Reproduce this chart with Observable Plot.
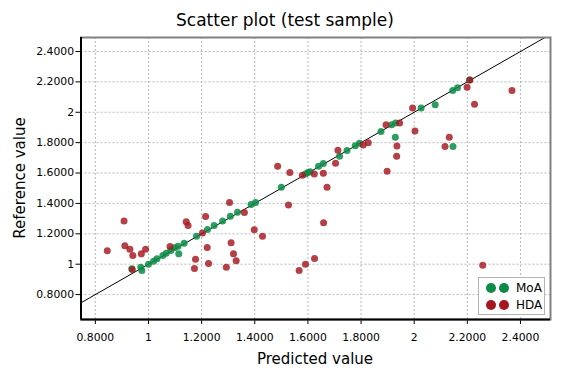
<!DOCTYPE html>
<html><head><meta charset="utf-8">
<script src="https://cdn.jsdelivr.net/npm/d3@7"></script>
<script src="https://cdn.jsdelivr.net/npm/@observablehq/plot@0.6"></script>
<style>
body{margin:0;background:#fff;font-family:"DejaVu Sans",sans-serif;}
#wrap{position:relative;width:570px;height:375px;overflow:hidden;}
#title{height:36px;text-align:center;font-size:17px;line-height:40px;color:#000;}
#legend{position:absolute;left:478px;top:277px;width:65px;height:36px;border:1.5px solid #b4b4b4;background:#fff;}
.lrow{position:absolute;left:0;height:16px;width:65px;}
.ldot{position:absolute;top:3px;width:10px;height:10px;border-radius:50%;}
.ltxt{position:absolute;left:37px;top:0;font-size:12px;line-height:16px;color:#000;}
.atitle{position:absolute;font-size:15px;line-height:18px;white-space:nowrap;color:#000;transform-origin:center center;}
#xlab{left:315px;top:359px;transform:translate(-50%,-50%);}
#ylab{left:20px;top:178px;transform:translate(-50%,-50%) rotate(-90deg);}
</style></head>
<body><div id="wrap"><div id="title">Scatter plot (test sample)</div><div id="chart"></div><div id="legend"></div>
<div class="atitle" id="xlab"></div><div class="atitle" id="ylab"></div></div>
<script>
const seriesNames = ["MoA", "HDA"];
const seriesColors = ["#0a8c47", "#a5161f"];
const xAxisTitle = "Predicted value";
const yAxisTitle = "Reference value";

const moaPredicted = [0.937,0.971,0.975,1.000,1.019,1.032,1.054,1.067,1.084,1.098,1.111,1.114,1.134,1.181,1.222,1.247,1.279,1.308,1.335,1.386,1.403,1.500,1.591,1.600,1.608,1.640,1.658,1.719,1.747,1.778,1.794,1.875,1.915,1.930,1.929,2.026,2.079,2.145,2.163,2.146,2.209];
const moaReference = [0.970,0.980,0.959,1.000,1.020,1.036,1.057,1.072,1.090,1.108,1.118,1.068,1.138,1.184,1.228,1.254,1.285,1.316,1.342,1.393,1.406,1.506,1.594,1.603,1.609,1.644,1.662,1.710,1.748,1.780,1.796,1.874,1.918,1.930,1.835,2.028,2.050,2.144,2.162,1.774,2.212];

const hdaPredicted = [0.845,0.908,0.911,0.930,0.941,0.939,0.973,0.989,1.081,1.142,1.149,1.177,1.173,1.203,1.215,1.221,1.226,1.293,1.305,1.311,1.320,1.330,1.361,1.398,1.429,1.486,1.527,1.532,1.567,1.579,1.591,1.624,1.625,1.658,1.659,1.672,1.704,1.713,1.808,1.827,1.894,1.898,1.934,1.935,1.945,1.994,2.003,2.116,2.132,2.199,2.209,2.227,2.258,2.368];
const hdaReference = [1.089,1.285,1.121,1.099,1.057,0.965,1.068,1.099,1.116,1.279,1.254,1.033,0.972,1.206,1.314,1.110,1.005,0.980,1.406,1.141,1.068,1.022,1.340,1.226,1.184,1.644,1.390,1.603,0.959,1.585,1.000,1.594,1.037,1.598,1.272,1.506,1.664,1.750,1.785,1.800,1.917,1.611,1.710,1.778,1.930,2.028,1.877,1.774,1.835,2.164,2.212,2.052,0.993,2.144];

const xTicks = [0.8,1,1.2,1.4,1.6,1.8,2,2.2,2.4];
const xTickLabels = ["0.8000","1","1.2000","1.4000","1.6000","1.8000","2","2.2000","2.4000"];
const yTicks = [0.8,1,1.2,1.4,1.6,1.8,2,2.2,2.4];
const yTickLabels = ["0.8000","1","1.2000","1.4000","1.6000","1.8000","2","2.2000","2.4000"];
const xDomain = [0.746, 2.513];
const yDomain = [0.636, 2.492];

const moa = moaPredicted.map((p, i) => ({p, r: moaReference[i]}));
const hda = hdaPredicted.map((p, i) => ({p, r: hdaReference[i]}));
const diag = [xDomain[0] - 0.2, xDomain[1] + 0.2].map(v => ({p: v, r: v}));

const fmtX = v => xTickLabels[xTicks.indexOf(v)] ?? "";
const fmtY = v => yTickLabels[yTicks.indexOf(v)] ?? "";

const chart = Plot.plot({
  width: 570, height: 339,
  marginLeft: 80.5, marginRight: 20, marginTop: 1, marginBottom: 56,
  style: {fontFamily: "DejaVu Sans, sans-serif", fontSize: "10.5px", color: "#000", background: "#fff"},
  x: {domain: xDomain},
  y: {domain: yDomain},
  marks: [
    Plot.gridX(xTicks, {stroke: "#b8b8b8", strokeOpacity: 1, strokeDasharray: "2,2"}),
    Plot.gridY(yTicks, {stroke: "#b8b8b8", strokeOpacity: 1, strokeDasharray: "2,2"}),
    Plot.axisX(xTicks, {tickFormat: fmtX, tickSize: 5, tickPadding: 9, label: null, fontSize: 10.8}),
    Plot.axisY(yTicks, {tickFormat: fmtY, tickSize: 5, tickPadding: 2, label: null, fontSize: 10.8}),
    Plot.line(diag, {x: "p", y: "r", stroke: "#000", strokeWidth: 1, clip: true}),
    Plot.dot(moa, {x: "p", y: "r", r: 3.5, fill: seriesColors[0], fillOpacity: 0.85, stroke: "none"}),
    Plot.dot(hda, {x: "p", y: "r", r: 3.5, fill: seriesColors[1], fillOpacity: 0.82, stroke: "none"}),
    Plot.frame({stroke: "#808080", strokeWidth: 2}),
    Plot.ruleX([xDomain[0]], {stroke: "#000", strokeWidth: 2}),
    Plot.ruleY([yDomain[0]], {stroke: "#000", strokeWidth: 2})
  ]
});
document.getElementById("chart").appendChild(chart);
document.getElementById("xlab").textContent = xAxisTitle;
document.getElementById("ylab").textContent = yAxisTitle;

const legend = document.getElementById("legend");
seriesNames.forEach((name, i) => {
  const row = document.createElement("div");
  row.className = "lrow";
  row.style.top = (2 + i * 16.5) + "px";
  [7, 19.5].forEach(left => {
    const d = document.createElement("div");
    d.className = "ldot";
    d.style.left = left + "px";
    d.style.background = seriesColors[i];
    row.appendChild(d);
  });
  const t = document.createElement("div");
  t.className = "ltxt";
  t.textContent = name;
  row.appendChild(t);
  legend.appendChild(row);
});
</script></body></html>
